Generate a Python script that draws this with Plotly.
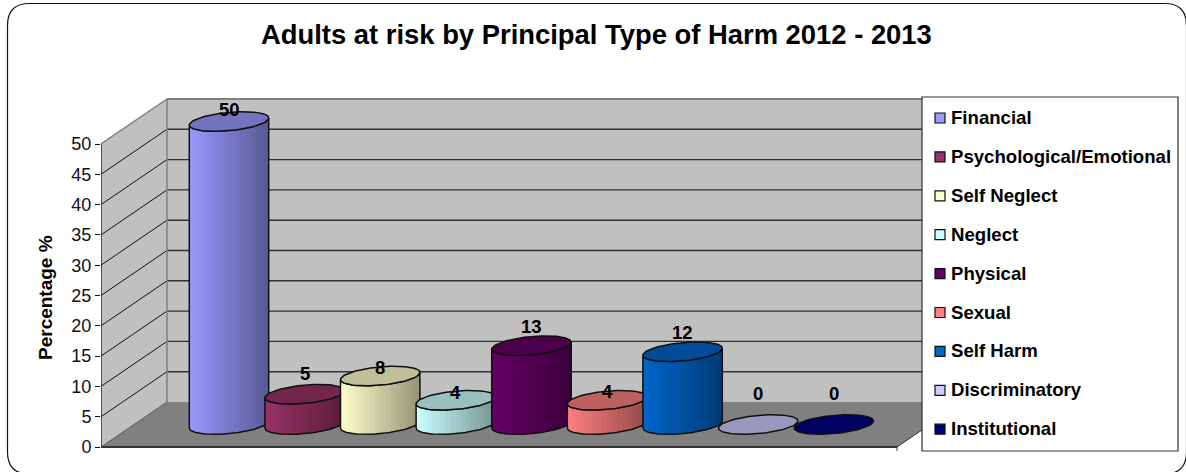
import numpy as np
import plotly.graph_objects as go

# Chart content
title_text = "Adults at risk by Principal Type of Harm 2012 - 2013"
axis_title = "Percentage %"
series_names = ["Financial", "Psychological/Emotional", "Self Neglect", "Neglect", "Physical",
                "Sexual", "Self Harm", "Discriminatory", "Institutional"]
series_values = [50, 5, 8, 4, 13, 4, 12, 0, 0]
series_colors = ["#9999FF", "#993366", "#FFFFCC", "#CCFFFF", "#660066",
                 "#FF8080", "#0066CC", "#CCCCFF", "#000080"]
tick_values = list(range(0, 55, 5))
label_lift_px = [12, 21, 9, 8, 19, 9, 19, 31, 31]

# Canvas and oblique projection settings, in pixels
WIDTH, HEIGHT = 1186, 472
FRONT_LEFT, FRONT_RIGHT, FRONT_ZERO = 101, 897, 447
PX_PER_VALUE, PX_PER_SLOT = 6.06, 75.6
DEPTH_PX_X, DEPTH_PX_Y = 66, 45
FIRST_SLOT_PX = 196
RADIUS_X_PX, RADIUS_Y_PX = 37.0, 9.8
RADIUS_SHEAR_PX = RADIUS_Y_PX * DEPTH_PX_X / DEPTH_PX_Y

DEPTH_X = DEPTH_PX_X / PX_PER_SLOT
DEPTH_Y = DEPTH_PX_Y / PX_PER_VALUE
SLOT_LEFT = (FRONT_LEFT - FIRST_SLOT_PX) / PX_PER_SLOT
SLOT_RIGHT = (FRONT_RIGHT - FIRST_SLOT_PX) / PX_PER_SLOT
X_RANGE = [SLOT_LEFT, (WIDTH - FIRST_SLOT_PX) / PX_PER_SLOT]
Y_RANGE = [(FRONT_ZERO - HEIGHT) / PX_PER_VALUE, FRONT_ZERO / PX_PER_VALUE]
TOP_VALUE = tick_values[-1]

FONT = "Liberation Sans, Arial, sans-serif"
WALL, FLOOR, EDGE = "#C0C0C0", "#808080", "#808080"


def slot_at(px):
    return (px - FIRST_SLOT_PX) / PX_PER_SLOT


def value_at(py):
    return (FRONT_ZERO - py) / PX_PER_VALUE


def shade(color, factor):
    r, g, b = (int(color[i:i + 2], 16) for i in (1, 3, 5))
    return f"rgb({r * factor:.0f},{g * factor:.0f},{b * factor:.0f})"


def rim(slot, level, t):
    """Point on a cylinder's circular rim, sheared by the oblique projection."""
    x = slot + 0.5 * DEPTH_X + (RADIUS_X_PX * np.cos(t) + RADIUS_SHEAR_PX * np.sin(t)) / PX_PER_SLOT
    y = level + 0.5 * DEPTH_Y + RADIUS_Y_PX * np.sin(t) / PX_PER_VALUE
    return x, y


def polygon_shape(xs, ys, fill, edge=None, width=0):
    path = "M" + "L".join(f"{x},{y}" for x, y in zip(xs, ys)) + "Z"
    return dict(type="path", xref="x", yref="y", path=path, fillcolor=fill, layer="below",
                line=dict(color=edge or fill, width=width))


def line_shape(x0, y0, x1, y1, color, width=1):
    return dict(type="line", xref="x", yref="y", x0=x0, y0=y0, x1=x1, y1=y1, layer="below",
                line=dict(color=color, width=width))


# Walls, floor and gridlines
shapes = [
    polygon_shape([SLOT_LEFT, SLOT_RIGHT, SLOT_RIGHT + DEPTH_X, SLOT_LEFT + DEPTH_X],
                  [0, 0, DEPTH_Y, DEPTH_Y], FLOOR),
    polygon_shape([SLOT_LEFT + DEPTH_X, SLOT_RIGHT + DEPTH_X, SLOT_RIGHT + DEPTH_X, SLOT_LEFT + DEPTH_X],
                  [DEPTH_Y, DEPTH_Y, TOP_VALUE + DEPTH_Y, TOP_VALUE + DEPTH_Y], WALL),
    polygon_shape([SLOT_LEFT, SLOT_LEFT + DEPTH_X, SLOT_LEFT + DEPTH_X, SLOT_LEFT],
                  [0, DEPTH_Y, TOP_VALUE + DEPTH_Y, TOP_VALUE], WALL),
]
for v in tick_values[1:-1]:
    shapes.append(line_shape(SLOT_LEFT, v, SLOT_LEFT + DEPTH_X, v + DEPTH_Y, "#111111", 1))
    shapes.append(line_shape(SLOT_LEFT + DEPTH_X, v + DEPTH_Y, SLOT_RIGHT + DEPTH_X, v + DEPTH_Y, "#303030", 1.4))
shapes += [
    line_shape(SLOT_LEFT + DEPTH_X, DEPTH_Y, SLOT_LEFT + DEPTH_X, TOP_VALUE + DEPTH_Y, EDGE, 1.5),
    line_shape(SLOT_LEFT + DEPTH_X, TOP_VALUE + DEPTH_Y, SLOT_RIGHT + DEPTH_X, TOP_VALUE + DEPTH_Y, EDGE, 2),
    line_shape(SLOT_LEFT, TOP_VALUE, SLOT_LEFT + DEPTH_X, TOP_VALUE + DEPTH_Y, EDGE, 1.5),
    line_shape(SLOT_LEFT, 0, SLOT_LEFT + DEPTH_X, DEPTH_Y, "#555555", 1),
    line_shape(SLOT_RIGHT, 0, SLOT_RIGHT + DEPTH_X, DEPTH_Y, "#333333", 1),
    line_shape(SLOT_RIGHT, 0, SLOT_RIGHT, -4 / PX_PER_VALUE, EDGE, 1.5),
    line_shape(SLOT_LEFT, 0, SLOT_LEFT, TOP_VALUE, "#111111", 1.3),
    line_shape(SLOT_LEFT, 0, SLOT_RIGHT, 0, "#333333", 2),
]

# Legend panel, on the same axes so that it covers the back wall
shapes.append(dict(type="rect", xref="x", yref="y", layer="below",
                   x0=slot_at(922), x1=slot_at(1178), y0=value_at(451), y1=value_at(97),
                   fillcolor="white", line=dict(color="#303030", width=1.2)))


def frame_path(l, t, r, b, rad):
    px = lambda x: x / WIDTH
    py = lambda y: 1 - y / HEIGHT
    return (f"M{px(l)},{py(t + rad)} Q{px(l)},{py(t)} {px(l + rad)},{py(t)} "
            f"L{px(r - rad)},{py(t)} Q{px(r)},{py(t)} {px(r)},{py(t + rad)} "
            f"L{px(r)},{py(b - rad)} Q{px(r)},{py(b)} {px(r - rad)},{py(b)} "
            f"L{px(l + rad)},{py(b)} Q{px(l)},{py(b)} {px(l)},{py(b - rad)} Z")


# Rounded chart frame
shapes.append(dict(type="path", xref="paper", yref="paper", layer="below",
                   path=frame_path(7.5, 3.5, 1186.5, 474, 22),
                   line=dict(color="#111111", width=1.2)))

fig = go.Figure()

# Cylinders, left to right so later ones sit in front
tilt = np.arctan2(RADIUS_SHEAR_PX, RADIUS_X_PX)
T_START, T_END = tilt + np.pi, tilt + 2 * np.pi
STRIPS = 24
for slot, (name, value, color) in enumerate(zip(series_names, series_values, series_colors)):
    if value > 0:
        edges = np.linspace(T_START, T_END, STRIPS + 1)
        left_x = rim(slot, 0, T_START)[0]
        right_x = rim(slot, 0, T_END)[0]
        for k in range(STRIPS):
            arc = np.linspace(edges[k], T_END, 30)
            bx, by = rim(slot, 0, arc)
            tx, ty = rim(slot, value, arc[::-1])
            share = (rim(slot, 0, (edges[k] + edges[k + 1]) / 2)[0] - left_x) / (right_x - left_x)
            fig.add_trace(go.Scatter(
                x=np.r_[bx, tx], y=np.r_[by, ty], mode="lines", fill="toself",
                fillcolor=shade(color, 1 - 0.42 * share), line=dict(width=0),
                name=name, legendgroup=name, showlegend=False, hoverinfo="skip"))
        arc = np.linspace(T_START, T_END, 60)
        bx, by = rim(slot, 0, arc)
        tx, ty = rim(slot, value, arc[::-1])
        fig.add_trace(go.Scatter(
            x=np.r_[bx, tx, bx[0]], y=np.r_[by, ty, by[0]], mode="lines",
            line=dict(color="#101010", width=1.5), showlegend=False, hoverinfo="skip"))
    circle = np.linspace(0, 2 * np.pi, 90)
    cx, cy = rim(slot, value, circle)
    fig.add_trace(go.Scatter(
        x=cx, y=cy, mode="lines", fill="toself", fillcolor=shade(color, 0.75),
        line=dict(color="#101010", width=1.5), name=name, showlegend=False,
        hovertemplate=f"{name}: {value}<extra></extra>"))

# Legend keys
LEGEND_KEY_PX = 940
LEGEND_TEXT_PX = 949
LEGEND_TOP_PX, LEGEND_STEP_PX = 118, 38.9
legend_y_px = [LEGEND_TOP_PX + LEGEND_STEP_PX * i for i in range(len(series_names))]
fig.add_trace(go.Scatter(
    x=[slot_at(LEGEND_KEY_PX)] * len(series_names),
    y=[value_at(p) for p in legend_y_px],
    mode="markers", showlegend=False, hoverinfo="skip",
    marker=dict(symbol="square", size=10, color=series_colors, line=dict(color="#101010", width=1.2))))

annotations = [
    dict(text=f"<b>{title_text}</b>", xref="paper", yref="paper", x=596.5 / WIDTH, y=1 - 34 / HEIGHT,
         showarrow=False, font=dict(family=FONT, size=27.4, color="black"), xanchor="center", yanchor="middle"),
    dict(text=f"<b>{axis_title}</b>", xref="paper", yref="paper", x=45 / WIDTH, y=1 - 298 / HEIGHT,
         showarrow=False, textangle=-90, font=dict(family=FONT, size=19, color="black"),
         xanchor="center", yanchor="middle"),
]
for name, p in zip(series_names, legend_y_px):
    annotations.append(dict(text=f"<b>{name}</b>", xref="paper", yref="paper", x=LEGEND_TEXT_PX / WIDTH,
                            y=1 - (p - 0.5) / HEIGHT, showarrow=False, xanchor="left", yanchor="middle",
                            font=dict(family=FONT, size=18.6, color="black")))
for slot, (value, lift) in enumerate(zip(series_values, label_lift_px)):
    annotations.append(dict(text=f"<b>{value}</b>", xref="x", yref="y", x=slot + 0.5 * DEPTH_X,
                            y=value + 0.5 * DEPTH_Y, yshift=lift, showarrow=False,
                            xanchor="center", yanchor="middle",
                            font=dict(family=FONT, size=18.5, color="black")))

fig.update_layout(
    width=WIDTH, height=HEIGHT, margin=dict(l=0, r=0, t=0, b=0, autoexpand=False),
    paper_bgcolor="white", plot_bgcolor="rgba(0,0,0,0)", showlegend=False,
    shapes=shapes, annotations=annotations,
    xaxis=dict(domain=[FRONT_LEFT / WIDTH, 1], range=X_RANGE, visible=False, fixedrange=True),
    yaxis=dict(range=Y_RANGE, tickvals=tick_values, ticks="outside", ticklen=5, tickwidth=1, tickcolor="#111111",
               showgrid=False, zeroline=False, showline=False, fixedrange=True,
               tickfont=dict(family=FONT, size=18, color="#111111")),
)

fig.write_html("out.html", config=dict(displayModeBar=False))
